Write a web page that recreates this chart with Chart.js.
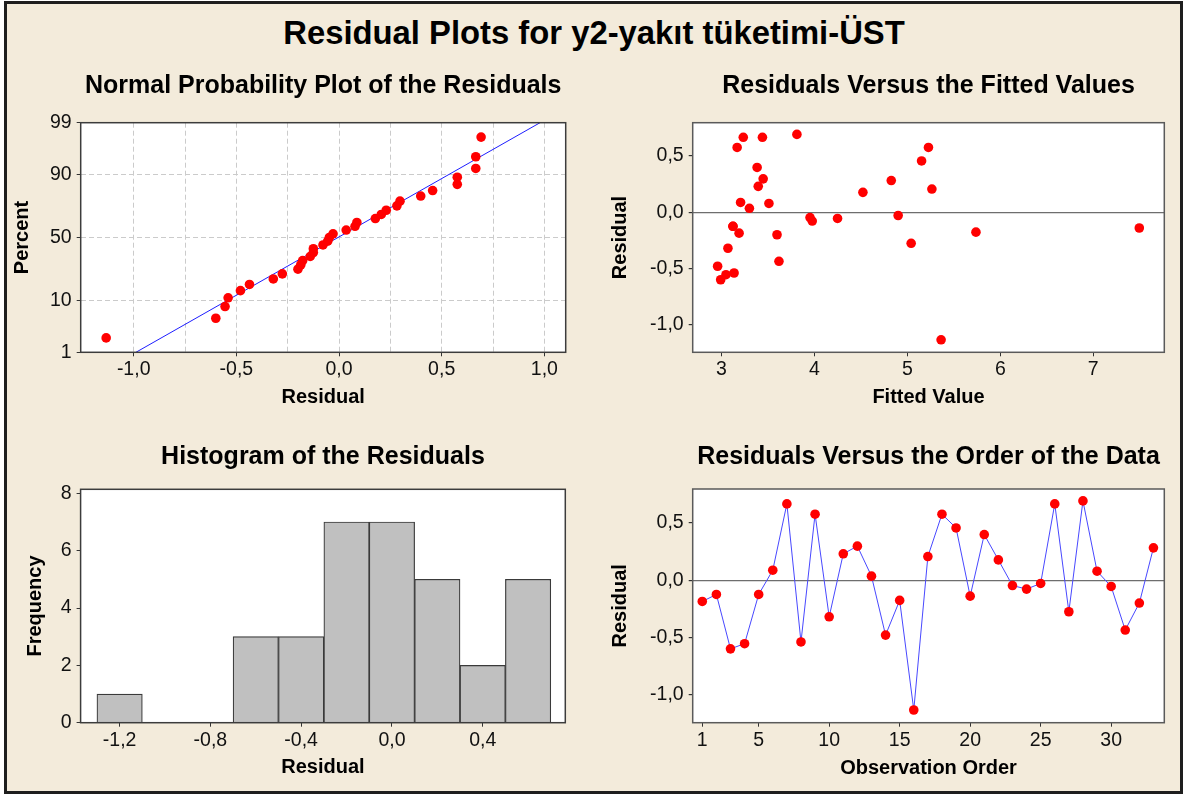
<!DOCTYPE html>
<html>
<head>
<meta charset="utf-8">
<script src="https://cdn.jsdelivr.net/npm/chart.js@4/dist/chart.umd.min.js"></script>
<style>
html,body{margin:0;padding:0;background:#ffffff;}
#page{position:relative;width:1188px;height:796px;overflow:hidden;}
#frame{position:absolute;left:4px;top:1px;width:1179px;height:793px;box-sizing:border-box;border:3px solid #1e1e1e;background:#F3EBDB;}
#mainTitle{position:absolute;left:0;top:16px;width:1188px;text-align:center;font:bold 32.8px 'Liberation Sans',Arial,sans-serif;line-height:33px;color:#000;}
canvas{position:absolute;}
</style>
</head>
<body>
<div id="page">
  <div id="frame"></div>
  <div id="mainTitle">Residual Plots for y2-yakıt tüketimi-ÜST</div>
  <canvas id="c1" width="580" height="360" style="left:0px;top:60px"></canvas>
  <canvas id="c2" width="594" height="360" style="left:594px;top:60px"></canvas>
  <canvas id="c3" width="580" height="360" style="left:0px;top:430px"></canvas>
  <canvas id="c4" width="594" height="360" style="left:594px;top:430px"></canvas>
</div>
<script>
// ---------------- data ----------------
// residuals in observation order (1..33)
const residuals = [-0.186, -0.125, -0.600, -0.555, -0.125, 0.087, 0.666, -0.540, 0.576, -0.320,
                   0.230, 0.297, 0.035, -0.480, -0.177, -1.134, 0.206, 0.576, 0.456, -0.140,
                   0.398, 0.177, -0.047, -0.078, -0.029, 0.666, -0.276, 0.692, 0.078, -0.055,
                   -0.436, -0.200, 0.282];
// fitted values in observation order
const fittedValues = [3.190, 3.124, 2.992, 3.049, 3.124, 3.206, 3.235, 3.136, 3.169, 3.070,
                      3.396, 3.449, 3.301, 2.959, 5.738, 5.363, 5.264, 5.227, 5.153, 7.495,
                      3.384, 4.522, 3.953, 3.977, 4.901, 3.441, 5.041, 3.812, 3.511, 4.249,
                      3.619, 3.598, 4.827];
// normal probability plot: plotting positions (percent) for the sorted residuals
const probPercent = [2.096, 5.090, 8.084, 11.078, 14.072, 17.066, 20.060, 23.054, 26.048, 29.042,
                     32.036, 35.030, 38.024, 41.018, 44.012, 47.006, 50.000, 52.994, 55.988, 58.982,
                     61.976, 64.970, 67.964, 70.958, 73.952, 76.946, 79.940, 82.934, 85.928, 88.922,
                     91.916, 94.910, 97.904];
const probLineResid = [-0.989, 0.979];
const probLinePct = [1, 99];
const probYTickPct = [1, 10, 50, 90, 99];
const probXTicks = [-1.0, -0.5, 0.0, 0.5, 1.0];
const probXGrid = [-1.0, -0.75, -0.5, -0.25, 0.0, 0.25, 0.5, 0.75, 1.0];
// histogram
const histCenters = [-1.2, -1.0, -0.8, -0.6, -0.4, -0.2, 0.0, 0.2, 0.4, 0.6];
const histCounts = [1, 0, 0, 3, 3, 7, 7, 5, 2, 5];
const histXTicks = [-1.2, -0.8, -0.4, 0.0, 0.4];
const histYTicks = [0, 2, 4, 6, 8];
// residual axes
const residTicks = [-1.0, -0.5, 0.0, 0.5];
const fittedTicks = [3, 4, 5, 6, 7];
const orderTicks = [1, 5, 10, 15, 20, 25, 30];

// ---------------- helpers ----------------
function probit(p) {
  const a=[-3.969683028665376e+01,2.209460984245205e+02,-2.759285104469687e+02,1.383577518672690e+02,-3.066479806614716e+01,2.506628277459239e+00];
  const b=[-5.447609879822406e+01,1.615858368580409e+02,-1.556989798598866e+02,6.680131188771972e+01,-1.328068155288572e+01];
  const c=[-7.784894002430293e-03,-3.223964580411365e-01,-2.400758277161838e+00,-2.549732539343734e+00,4.374664141464968e+00,2.938163982698783e+00];
  const d=[7.784695709041462e-03,3.224671290700398e-01,2.445134137142996e+00,3.754408661907416e+00];
  const pl=0.02425, ph=1-pl; let q, r;
  if (p < pl) { q=Math.sqrt(-2*Math.log(p)); return (((((c[0]*q+c[1])*q+c[2])*q+c[3])*q+c[4])*q+c[5])/((((d[0]*q+d[1])*q+d[2])*q+d[3])*q+1); }
  if (p <= ph) { q=p-0.5; r=q*q; return (((((a[0]*r+a[1])*r+a[2])*r+a[3])*r+a[4])*r+a[5])*q/(((((b[0]*r+b[1])*r+b[2])*r+b[3])*r+b[4])*r+1); }
  q=Math.sqrt(-2*Math.log(1-p)); return -(((((c[0]*q+c[1])*q+c[2])*q+c[3])*q+c[4])*q+c[5])/((((d[0]*q+d[1])*q+d[2])*q+d[3])*q+1);
}
function fmt1(v) { return Math.abs(v) < 1e-9 ? '0,0' : v.toFixed(1).replace('.', ','); }
function setTicks(arr) { return (s) => { s.ticks = arr.map(v => ({value: v})); }; }

const FONT = "'Liberation Sans', Arial, sans-serif";
Chart.defaults.font.family = FONT;
Chart.defaults.color = '#111';

const plotFrame = {
  id: 'plotFrame',
  beforeDraw(chart) {
    const a = chart.chartArea, ctx = chart.ctx;
    ctx.save(); ctx.fillStyle = '#ffffff';
    ctx.fillRect(a.left, a.top, a.right - a.left, a.bottom - a.top);
    ctx.restore();
  },
  afterDraw(chart, args, opts) {
    const a = chart.chartArea, ctx = chart.ctx;
    ctx.save(); ctx.strokeStyle = opts.color || '#444'; ctx.lineWidth = opts.width || 1.5;
    ctx.strokeRect(a.left, a.top, a.right - a.left, a.bottom - a.top);
    ctx.restore();
  }
};
Chart.register(plotFrame);

const tickFont = {size: 19.5, family: FONT};
const axisTitleFont = {size: 20, weight: 'bold', family: FONT};
const panelTitleFont = {size: 25, weight: 'bold', family: FONT};

function baseOptions(cfg) {
  return {
    responsive: false, animation: false, events: [],
    layout: {padding: {left: 0, top: 0, right: cfg.padRight, bottom: 0}},
    plugins: {
      legend: {display: false}, tooltip: {enabled: false},
      title: {display: true, text: cfg.title, fullSize: false, color: '#000', font: panelTitleFont,
              padding: {top: cfg.titleTop, bottom: cfg.titleBottom}},
      plotFrame: {color: cfg.frameColor || '#3c3c3c', width: 1.5}
    },
    scales: {
      x: Object.assign({
        type: 'linear', position: 'bottom', min: cfg.xMin, max: cfg.xMax, offset: false,
        afterBuildTicks: setTicks(cfg.xTicks),
        afterFit: (s) => { s.height = cfg.xAxisH; },
        ticks: {autoSkip: false, maxRotation: 0, minRotation: 0, padding: 2, font: tickFont, color: '#111',
                callback: cfg.xLabel},
        grid: {display: true, offset: false, drawOnChartArea: false, tickLength: 4, tickColor: '#333', lineWidth: 1},
        border: {display: false},
        title: {display: true, text: cfg.xTitle, font: axisTitleFont, color: '#000', padding: {top: 0, bottom: cfg.xTitlePad}}
      }, cfg.xExtra || {}),
      y: Object.assign({
        type: 'linear', position: 'left', min: cfg.yMin, max: cfg.yMax,
        afterBuildTicks: setTicks(cfg.yTicks),
        afterFit: (s) => { s.width = cfg.yAxisW; },
        ticks: {autoSkip: false, padding: 5, font: tickFont, color: '#111', callback: cfg.yLabel},
        grid: {display: true, drawOnChartArea: false, tickLength: 4, tickColor: '#333', lineWidth: 1},
        border: {display: false},
        title: {display: true, text: cfg.yTitle, font: axisTitleFont, color: '#000', padding: {top: cfg.yTitlePad, bottom: 0}}
      }, cfg.yExtra || {})
    }
  };
}

// ---------------- panel 1: normal probability plot ----------------
const sortedResid = residuals.slice().sort((p, q) => p - q);
const probPoints = sortedResid.map((r, i) => ({x: r, y: probit(probPercent[i] / 100)}));
const probLine = probLineResid.map((r, i) => ({x: r, y: probit(probLinePct[i] / 100)}));
const zTicks = probYTickPct.map(p => probit(p / 100));

const opt1 = baseOptions({
  title: 'Normal Probability Plot of the Residuals', padRight: 14.3, titleTop: 11, titleBottom: 21.7,
  xMin: -1.258, xMax: 1.104, xTicks: probXGrid, xAxisH: 67.7, xTitle: 'Residual', xTitlePad: 10.3,
  xLabel: (v) => probXTicks.some(t => Math.abs(t - v) < 1e-9) ? fmt1(v) : '',
  yMin: probit(0.01), yMax: probit(0.99), yTicks: zTicks, yAxisW: 80.7, yTitle: 'Percent', yTitlePad: 10.2,
  yLabel: (v, i) => String(probYTickPct[i])
});
opt1.scales.x.grid = {display: true, offset: false, drawOnChartArea: true, color: '#CBCBCB', lineWidth: 1, tickLength: 4,
  tickColor: (ctx) => (ctx.tick && probXTicks.some(t => Math.abs(t - ctx.tick.value) < 1e-9)) ? '#333' : 'rgba(0,0,0,0)'};
opt1.scales.x.border = {display: false, dash: [5, 3]};
opt1.scales.y.grid = {display: true, drawOnChartArea: true, color: '#CBCBCB', lineWidth: 1, tickLength: 4, tickColor: '#333'};
opt1.scales.y.border = {display: false, dash: [5, 3]};

new Chart(document.getElementById('c1'), {
  type: 'scatter',
  data: {datasets: [
    {data: probPoints, showLine: false, pointRadius: 4.8, pointBackgroundColor: '#FF0000', pointBorderColor: '#FF0000', pointBorderWidth: 0},
    {data: probLine, showLine: true, borderColor: '#1E1EFF', borderWidth: 1, pointRadius: 0}
  ]},
  options: opt1
});

// ---------------- panel 2: residuals vs fitted ----------------
const zeroLine = (ctx) => (ctx.tick && Math.abs(ctx.tick.value) < 1e-9) ? '#6e6e6e' : 'rgba(0,0,0,0)';
const opt2 = baseOptions({
  title: 'Residuals Versus the Fitted Values', padRight: 23.7, titleTop: 11, titleBottom: 21.7, frameColor: '#5a5a5a',
  xMin: 2.691, xMax: 7.764, xTicks: fittedTicks, xAxisH: 67.7, xTitle: 'Fitted Value', xTitlePad: 10.3,
  xLabel: (v) => String(v),
  yMin: -1.245, yMax: 0.796, yTicks: residTicks, yAxisW: 98.7, yTitle: 'Residual', yTitlePad: 14,
  yLabel: (v) => fmt1(v)
});
opt2.scales.y.grid = {display: true, drawOnChartArea: true, color: zeroLine, lineWidth: 1.2, tickLength: 4, tickColor: '#333'};

new Chart(document.getElementById('c2'), {
  type: 'scatter',
  data: {datasets: [
    {data: fittedValues.map((f, i) => ({x: f, y: residuals[i]})), showLine: false, pointRadius: 4.8,
     pointBackgroundColor: '#FF0000', pointBorderColor: '#FF0000', pointBorderWidth: 0}
  ]},
  options: opt2
});

// ---------------- panel 3: histogram ----------------
const opt3 = baseOptions({
  title: 'Histogram of the Residuals', padRight: 14.7, titleTop: 12, titleBottom: 17.3,
  xMin: -1.372, xMax: 0.764, xTicks: histXTicks, xAxisH: 67.3, xTitle: 'Residual', xTitlePad: 10.3,
  xLabel: (v) => fmt1(v),
  yMin: 0, yMax: 8.14, yTicks: histYTicks, yAxisW: 80.6, yTitle: 'Frequency', yTitlePad: 23,
  yLabel: (v) => String(v)
});
new Chart(document.getElementById('c3'), {
  type: 'bar',
  data: {datasets: [
    {data: histCenters.map((cx, i) => ({x: cx, y: histCounts[i]})), backgroundColor: '#C0C0C0',
     borderColor: '#3a3a3a', borderWidth: 1.2, barPercentage: 1, categoryPercentage: 1}
  ]},
  options: opt3
});

// ---------------- panel 4: residuals vs order ----------------
const opt4 = baseOptions({
  title: 'Residuals Versus the Order of the Data', padRight: 23.7, titleTop: 12, titleBottom: 17, frameColor: '#5a5a5a',
  xMin: 0.32, xMax: 33.77, xTicks: orderTicks, xAxisH: 67.3, xTitle: 'Observation Order', xTitlePad: 9.7,
  xLabel: (v) => String(v),
  yMin: -1.245, yMax: 0.796, yTicks: residTicks, yAxisW: 98.7, yTitle: 'Residual', yTitlePad: 14,
  yLabel: (v) => fmt1(v)
});
opt4.scales.y.grid = {display: true, drawOnChartArea: true, color: zeroLine, lineWidth: 1.2, tickLength: 4, tickColor: '#333'};

new Chart(document.getElementById('c4'), {
  type: 'scatter',
  data: {datasets: [
    {data: residuals.map((r, i) => ({x: i + 1, y: r})), showLine: true, borderColor: '#4848FF', borderWidth: 1,
     pointRadius: 4.8, pointBackgroundColor: '#FF0000', pointBorderColor: '#FF0000', pointBorderWidth: 0}
  ]},
  options: opt4
});
</script>
</body>
</html>
